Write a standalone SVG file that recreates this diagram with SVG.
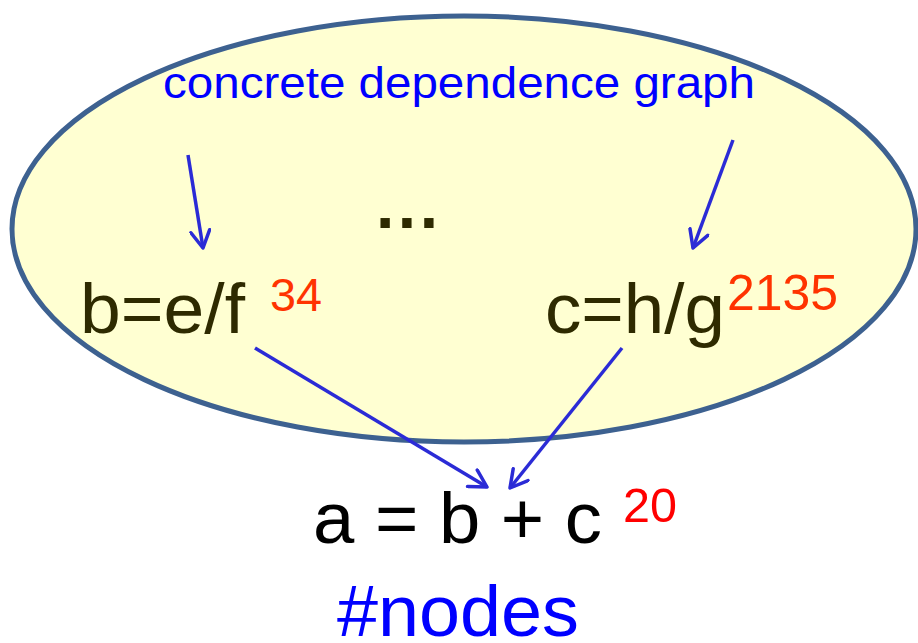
<svg xmlns="http://www.w3.org/2000/svg" width="918" height="643" viewBox="0 0 918 643">
<defs>
<style>
.t{font-family:"Liberation Sans",Arial,sans-serif}
.conn{stroke:#2B2BD6;stroke-width:3.5;fill:none;marker-end:url(#ah)}
.dark{fill:#2E2A00}
.red{fill:#FF3300}
.blue{fill:#0000FF}
</style>
<marker id="ah" viewBox="0 0 22 22" refX="19" refY="11" markerWidth="22" markerHeight="22" markerUnits="userSpaceOnUse" orient="auto">
<path d="M2,1.5 L19,11 L2,20.5" fill="none" stroke="#2B2BD6" stroke-width="3.5" stroke-linecap="round" stroke-linejoin="round"/>
</marker>
</defs>
<rect width="918" height="643" fill="#FFFFFF"/>
<g id="graph">
<ellipse cx="464" cy="229" rx="452" ry="213" fill="#FFFFD2" stroke="#3D6190" stroke-width="5"/>
<text class="t blue" x="163" y="98" font-size="45" textLength="592" lengthAdjust="spacingAndGlyphs">concrete dependence graph</text>
</g>
<g id="dots"><text class="t dark" x="376" y="228" font-size="66" font-weight="bold" textLength="62" lengthAdjust="spacing">...</text></g>
<g id="node-b">
<text class="t dark" x="80" y="333" font-size="70" textLength="165" lengthAdjust="spacingAndGlyphs">b=e/f</text>
<text class="t red" x="270" y="311" font-size="46" textLength="52" lengthAdjust="spacingAndGlyphs">34</text>
</g>
<g id="node-c">
<text class="t dark" x="545" y="333" font-size="70" textLength="180" lengthAdjust="spacingAndGlyphs">c=h/g</text>
<text class="t red" x="727" y="310" font-size="50" textLength="111" lengthAdjust="spacingAndGlyphs">2135</text>
</g>
<g id="node-a">
<text class="t" x="313" y="543" font-size="73" fill="#000000" textLength="289" lengthAdjust="spacingAndGlyphs">a = b + c</text>
<text class="t" x="623" y="522" font-size="49" fill="#FF0000" textLength="54" lengthAdjust="spacingAndGlyphs">20</text>
</g>
<g id="label-nodes"><text class="t blue" x="337" y="636" font-size="72" textLength="242" lengthAdjust="spacingAndGlyphs">#nodes</text></g>
<g id="connectors">
<line class="conn" x1="188" y1="155" x2="203" y2="248"/>
<line class="conn" x1="733" y1="140" x2="693" y2="248"/>
<line class="conn" x1="255" y1="348" x2="487" y2="487"/>
<line class="conn" x1="622" y1="348" x2="510" y2="488"/>
</g>
</svg>
